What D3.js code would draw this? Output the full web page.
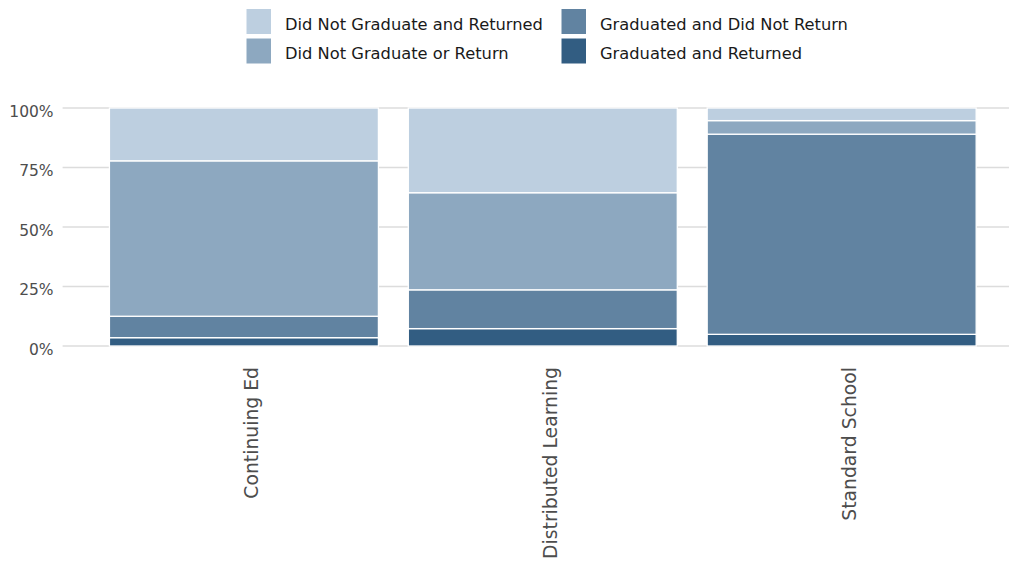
<!DOCTYPE html>
<html>
<head>
<meta charset="utf-8">
<script src="https://cdn.jsdelivr.net/npm/d3@7"></script>
<style>
    body { margin: 0; background: #ffffff; }
    svg { display: block; font-family: "DejaVu Sans", Verdana, sans-serif; }
</style>
</head>
<body>
<div id="chart"></div>
<script>
// School types on the x axis
let categories = ["Continuing Ed", "Distributed Learning", "Standard School"];

// Outcome groups, stacked from the bottom up
let outcomes = ["Graduated and Returned", "Graduated and Did Not Return",
    "Did Not Graduate or Return", "Did Not Graduate and Returned"];

// Share of students (%) in each group, one value per school type
let graduatedReturned = [3.5, 7.3, 4.9];
let graduatedNotReturned = [9.0, 16.3, 84.1];
let notGraduatedNotReturned = [65.3, 40.8, 5.7];
let notGraduatedReturned = [22.2, 35.6, 5.3];

let yTicks = [0, 0.25, 0.5, 0.75, 1];

let colors = ["#325d82", "#6183a1", "#8da8c0", "#bdcfe0"];

// build rows for the stack layout
let rows = categories.map((c, i) => ({
    category: c,
    "Graduated and Returned": graduatedReturned[i],
    "Graduated and Did Not Return": graduatedNotReturned[i],
    "Did Not Graduate or Return": notGraduatedNotReturned[i],
    "Did Not Graduate and Returned": notGraduatedReturned[i]
}));

let width = 1009, height = 565;
let margin = {top: 108, left: 64.6, bottom: 219};

let svg = d3.select("#chart").append("svg")
    .attr("width", width)
    .attr("height", height);

// Scales
let x = d3.scaleBand()
    .domain(categories)
    .range([margin.left, 1021])
    .paddingInner(0.1)
    .paddingOuter(0.15);

let y = d3.scaleLinear()
    .domain([0, 1])
    .range([height - margin.bottom, margin.top]);

let color = d3.scaleOrdinal()
    .domain(outcomes)
    .range(colors);

// Grid lines
svg.append("g")
    .selectAll("line")
    .data(yTicks)
    .join("line")
    .attr("x1", margin.left - 2)
    .attr("x2", width)
    .attr("y1", d => y(d))
    .attr("y2", d => y(d))
    .attr("stroke", "#dcdcdc")
    .attr("stroke-width", 1.3);

// Y axis labels
let yAxis = d3.axisLeft(y)
    .tickValues(yTicks)
    .tickFormat(d3.format(".0%"))
    .tickSize(0)
    .tickPadding(11);

svg.append("g")
    .attr("transform", `translate(${margin.left}, 0)`)
    .call(yAxis)
    .call(g => g.select(".domain").remove())
    .selectAll("text")
    .attr("dy", "0.52em")
    .style("font-family", "DejaVu Sans")
    .style("font-size", "15.5px")
    .style("fill", "#4d4d4d");

// Stacked bars, normalised to 100%
let series = d3.stack()
    .keys(outcomes)
    .offset(d3.stackOffsetExpand)(rows);

svg.append("g")
    .selectAll("g")
    .data(series)
    .join("g")
    .attr("fill", d => color(d.key))
    .selectAll("rect")
    .data(d => d)
    .join("rect")
    .attr("x", d => x(d.data.category))
    .attr("width", x.bandwidth())
    .attr("y", d => y(d[1]))
    .attr("height", d => y(d[0]) - y(d[1]))
    .attr("stroke", "#ffffff")
    .attr("stroke-width", 1.3);

// X axis labels, rotated
let xAxis = d3.axisBottom(x).tickSize(0);

svg.append("g")
    .attr("transform", `translate(0, ${height - margin.bottom})`)
    .call(xAxis)
    .call(g => g.select(".domain").remove())
    .selectAll("text")
    .attr("transform", "translate(14, 21) rotate(-90)")
    .attr("x", 0)
    .attr("y", 0)
    .attr("dy", 0)
    .style("text-anchor", "end")
    .style("font-family", "DejaVu Sans")
    .style("font-size", "18.8px")
    .style("fill", "#4d4d4d");

// Legend, two columns
let legendOrder = outcomes.slice().reverse();
let legendCols = [246, 561];
let legendRows = [8.5, 38];

let legend = svg.append("g")
    .selectAll("g")
    .data(legendOrder)
    .join("g")
    .attr("transform", (d, i) => `translate(${legendCols[Math.floor(i / 2)]}, ${legendRows[i % 2]})`);

legend.append("rect")
    .attr("width", 25.5)
    .attr("height", 26)
    .attr("fill", d => color(d))
    .attr("stroke", "#ffffff")
    .attr("stroke-width", 1);

legend.append("text")
    .attr("x", 39)
    .attr("y", 21)
    .style("font-size", "16.3px")
    .style("fill", "#1a1a1a")
    .text(d => d);
</script>
</body>
</html>
